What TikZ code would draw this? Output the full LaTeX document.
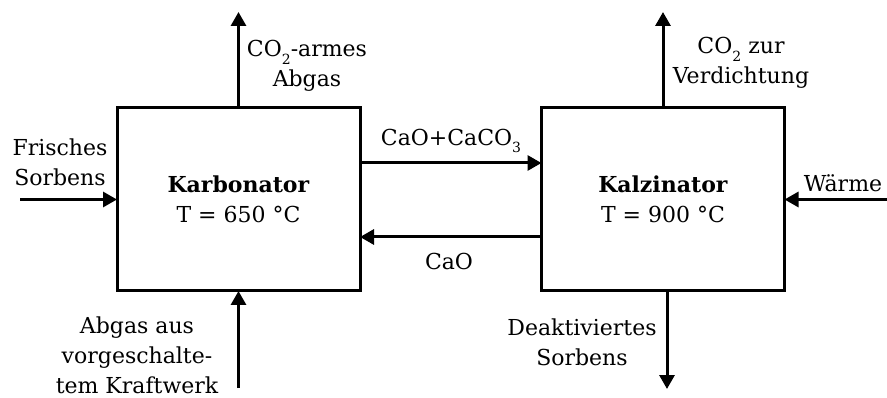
\documentclass[tikz,border=0pt]{standalone}
\usepackage{fontspec}
\setmainfont{DejaVu Serif}
\usetikzlibrary{arrows.meta}
\newcommand{\subtwo}[1]{\raisebox{-0.35em}{\fontsize{14}{14}\selectfont #1}}
\begin{document}
\begin{tikzpicture}[x=1pt,y=-1pt,
  font=\fontsize{22}{30}\selectfont,
  box/.style={draw,line width=3pt,minimum width=243pt,minimum height=183pt,inner sep=0pt,outer sep=0pt,align=center},
  arr/.style={line width=3pt,-{Triangle[length=14pt,width=15pt]}},
  lbl/.style={align=center,inner sep=0pt}]
\useasboundingbox (0,0) rectangle (887,398);
\node[box] (K) at (238.5,199.5) {\textbf{Karbonator}\\T = 650 °C};
\node[box] (Z) at (663,199.5) {\textbf{Kalzinator}\\T = 900 °C};
% free ends
\coordinate (kt) at (238.5,12);
\coordinate (zt) at (663,12);
\coordinate (kb) at (238.5,388);
\coordinate (zb) at (667,389);
\coordinate (fs) at (20,199.5);
\coordinate (wa) at (887,199.5);
\coordinate (ya) at (0,163);
\coordinate (yb) at (0,237);
\draw[arr] (K.north) -- (kt);
\draw[arr] (Z.north) -- (zt);
\draw[arr] (kb) -- (K.south);
\draw[arr] (Z.south -| zb) -- (zb);
\draw[arr] (fs) -- (K.west);
\draw[arr] (wa) -- (Z.east);
\draw[arr] (K.east |- ya) -- (Z.west |- ya);
\draw[arr] (Z.west |- yb) -- (K.east |- yb);
% labels
\node[lbl] (l1) at (307,66) {CO\subtwo{2}-armes\\Abgas};
\node[lbl] (l2) at (741,63) {CO\subtwo{2} zur\\Verdichtung};
\node[lbl] (l3) at (60,162) {Frisches\\Sorbens};
\node[lbl] (l4) at (843,183) {Wärme};
\node[lbl] (l5) at (451,141) {CaO+CaCO\subtwo{3}};
\node[lbl] (l6) at (449,261) {CaO};
\node[lbl] (l7) at (137,355) {Abgas aus\\vorgeschalte-\\tem Kraftwerk};
\node[lbl] (l8) at (582,342) {Deaktiviertes\\Sorbens};
\end{tikzpicture}
\end{document}
